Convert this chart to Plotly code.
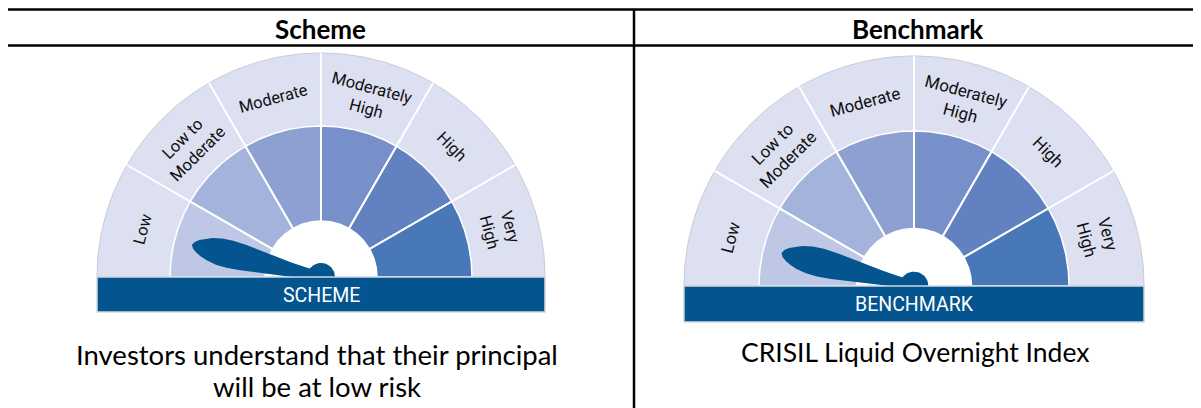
import numpy as np
import plotly.graph_objects as go

# ---------------- data ----------------
categories = ["Low", "Low to<br>Moderate", "Moderate", "Moderately<br>High", "High", "Very<br>High"]
sector_colors = ["#bec8e6", "#a4b3dc", "#8ea0d1", "#7790c9", "#6281c0", "#4878b7"]
panel_titles = ["Scheme", "Benchmark"]
bar_labels = ["SCHEME", "BENCHMARK"]
risk_levels = ["Low", "Low"]
caption_lines = [["Investors understand that their principal", "will be at low risk"],
                 ["CRISIL Liquid Overnight Index"]]

# ---------------- style / layout ----------------
W, H = 1201, 408
OFF = 8  # page body margin compensation
OUTER_BAND = "#dde0f1"
BAR_COLOR = "#03548f"
NEEDLE_COLOR = "#04548f"
gauges = [  # cx, cy, scale
    dict(cx=321, cy=277, s=1.0),
    dict(cx=914, cy=286, s=1.027),
]
R_OUT, R_COL, R_HOLE, BAR_H, R_LABEL = 224, 151, 56, 35, 185

fig = go.Figure()


def arc(cx, cy, r, a0, a1, n=80):
    a = np.radians(np.linspace(a0, a1, n))
    return cx + r * np.cos(a), cy - r * np.sin(a)


def add_poly(xs, ys, fill, line_color=None, line_width=0):
    fig.add_trace(go.Scatter(
        x=list(xs) + [xs[0]], y=list(ys) + [ys[0]], mode="lines", fill="toself",
        fillcolor=fill, line=dict(color=line_color or fill, width=line_width),
        hoverinfo="skip", showlegend=False))


n_cat = len(categories)
step = 180.0 / n_cat
plain = [c.replace("<br>", " ") for c in categories]

for gi, g in enumerate(gauges):
    cx, cy, s = g["cx"], g["cy"], g["s"]
    ro, rc, rh = R_OUT * s, R_COL * s, R_HOLE * s
    # outer band
    x, y = arc(cx, cy, ro, 0, 180, 160)
    add_poly(x, y, OUTER_BAND, "#c9ccd8", 1)
    # white hub hole
    x, y = arc(cx, cy, rh, 0, 180, 80)
    add_poly(x, y, "white")
    # coloured sectors (Low on the left)
    for i, col in enumerate(sector_colors):
        a1 = 180 - i * step
        a0 = a1 - step
        xo, yo = arc(cx, cy, rc, a1, a0)
        xi, yi = arc(cx, cy, rh, a0, a1)
        add_poly(np.r_[xo, xi], np.r_[yo, yi], col, "white", 1.5)
    # separators
    for i in range(1, n_cat):
        a = np.radians(180 - i * step)
        fig.add_trace(go.Scatter(
            x=[cx + rh * np.cos(a), cx + ro * np.cos(a)],
            y=[cy - rh * np.sin(a), cy - ro * np.sin(a)],
            mode="lines", line=dict(color="white", width=2),
            hoverinfo="skip", showlegend=False))
    # labels
    for i, lab in enumerate(categories):
        a = 180 - (i + 0.5) * step
        ar = np.radians(a)
        fig.add_annotation(
            x=cx + R_LABEL * s * np.cos(ar), y=cy - R_LABEL * s * np.sin(ar),
            text=lab, showarrow=False, textangle=90 - a,
            font=dict(family="Roboto", size=16.5 * s, color="#111111"),
            xanchor="center", yanchor="middle")
    # needle pointing to the risk level
    lvl = plain.index(risk_levels[gi])
    ang = np.radians(180 - (lvl + 0.5) * step + 1)
    d = np.array([np.cos(ang), -np.sin(ang)])
    nrm = np.array([np.sin(ang), np.cos(ang)])
    u = np.array([0, 15, 33, 48, 64, 80, 94, 105, 115, 122, 127, 131, 133]) * s
    hw = np.array([5.5, 5.5, 7, 9, 11, 13, 14, 13.5, 11.5, 9, 6.5, 3.5, 0]) * s
    top = [(cx + ui * d[0] + wi * nrm[0], cy + ui * d[1] + wi * nrm[1]) for ui, wi in zip(u, hw)]
    bot = [(cx + ui * d[0] - wi * nrm[0], cy + ui * d[1] - wi * nrm[1]) for ui, wi in zip(u, hw)]
    pts = top + bot[::-1]
    add_poly([p[0] for p in pts], [p[1] for p in pts], NEEDLE_COLOR)
    hx, hy = arc(cx, cy, 14 * s, 0, 360, 60)
    add_poly(hx, hy, NEEDLE_COLOR)
    # bar
    bx = [cx - ro, cx + ro, cx + ro, cx - ro]
    by = [cy, cy, cy + BAR_H * s, cy + BAR_H * s]
    add_poly(bx, by, BAR_COLOR, "#d3d7e0", 1.5)
    fig.add_annotation(x=cx, y=cy + BAR_H * s / 2 + 1, text=bar_labels[gi], showarrow=False,
                       font=dict(family="Roboto", size=19.5, color="white"),
                       xanchor="center", yanchor="middle")

# table headers and captions
col_centers = [320, 917]
for i in range(2):
    fig.add_annotation(x=col_centers[i], y=29, text="<b>" + panel_titles[i] + "</b>",
                       showarrow=False, font=dict(family="Lato", size=26, color="black"),
                       xanchor="center", yanchor="middle")
cap_pos = [(317, [354, 386], 27.5), (915, [352], 26.5)]
for (cxp, ys, fs), lines in zip(cap_pos, caption_lines):
    for yy, t in zip(ys, lines):
        fig.add_annotation(x=cxp, y=yy, text=t, showarrow=False,
                           font=dict(family="Lato", size=fs, color="black"),
                           xanchor="center", yanchor="middle")

# table grid lines
lw = 2.5
for yy in (9.5, 45.5):
    fig.add_shape(type="line", x0=5, x1=W + OFF, y0=yy, y1=yy, line=dict(color="black", width=lw))
fig.add_shape(type="line", x0=6, x1=6, y0=-OFF, y1=H + OFF, line=dict(color="black", width=lw))
fig.add_shape(type="line", x0=634, x1=634, y0=9, y1=H + OFF, line=dict(color="black", width=lw))

fig.update_layout(
    width=W, height=H, margin=dict(l=0, r=0, t=0, b=0),
    paper_bgcolor="white", plot_bgcolor="white", showlegend=False,
    xaxis=dict(range=[OFF, W + OFF], visible=False, fixedrange=True),
    yaxis=dict(range=[H + OFF, OFF], visible=False, fixedrange=True),
)
fig.write_html("out.html")
